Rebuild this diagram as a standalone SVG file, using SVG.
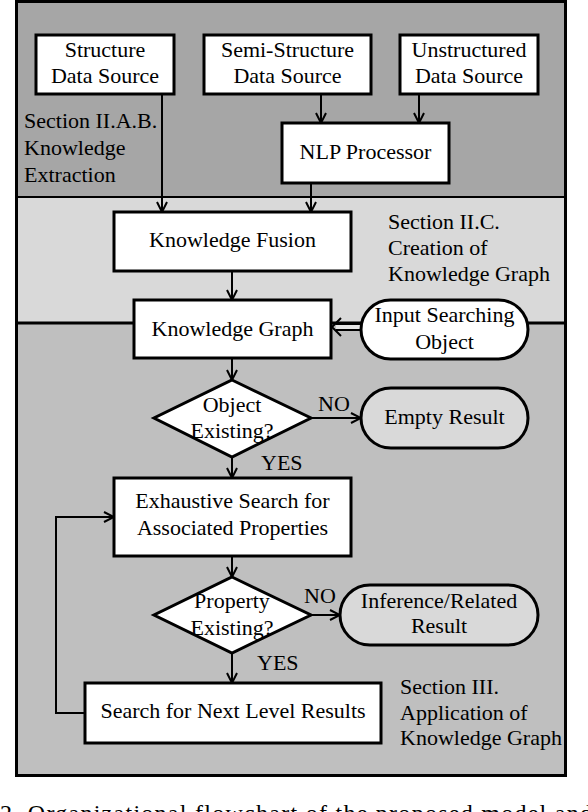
<svg xmlns="http://www.w3.org/2000/svg" width="588" height="812" viewBox="0 0 588 812">
<style>
.c{text-anchor:middle}
.box{fill:#fff;stroke:#000;stroke-width:3}
.res{fill:#d9d9d9;stroke:#000;stroke-width:3}
.ln{fill:none;stroke:#000;stroke-width:2}
</style>
<defs>
<marker id="ah" viewBox="0 0 12 12" refX="11" refY="6" markerWidth="12" markerHeight="12" markerUnits="userSpaceOnUse" orient="auto">
<path d="M1,1 L11,6 L1,11" fill="none" stroke="#000" stroke-width="2"/>
</marker>
</defs>
<g id="background">
<rect x="16.5" y="1.5" width="549" height="196" fill="#a6a6a6"/>
<rect x="16.5" y="197" width="549" height="126" fill="#d9d9d9"/>
<rect x="16.5" y="323" width="549" height="453" fill="#bfbfbf"/>
<line x1="16" y1="197" x2="566" y2="197" stroke="#000" stroke-width="2"/>
<line x1="16" y1="323" x2="566" y2="323" stroke="#000" stroke-width="3"/>
<rect x="16.5" y="1.5" width="549" height="774" fill="none" stroke="#000" stroke-width="3"/>
</g>
<g id="section-labels">
<text x="24" y="128" font-size="22" font-family="Liberation Serif">Section II.A.B.</text>
<text x="24" y="155" font-size="22" font-family="Liberation Serif">Knowledge</text>
<text x="24" y="182" font-size="22" font-family="Liberation Serif">Extraction</text>
<text x="388" y="229" font-size="22" font-family="Liberation Serif">Section II.C.</text>
<text x="388" y="255" font-size="22" font-family="Liberation Serif">Creation of</text>
<text x="388" y="281" font-size="22" font-family="Liberation Serif">Knowledge Graph</text>
<text x="400" y="694" font-size="22" font-family="Liberation Serif">Section III.</text>
<text x="400" y="720" font-size="22" font-family="Liberation Serif">Application of</text>
<text x="400" y="745" font-size="22" font-family="Liberation Serif">Knowledge Graph</text>
</g>
<g id="connectors">
<line class="ln" x1="162" y1="94" x2="162" y2="212" marker-end="url(#ah)"/>
<line class="ln" x1="321" y1="94" x2="321" y2="123" marker-end="url(#ah)"/>
<line class="ln" x1="419" y1="94" x2="419" y2="123" marker-end="url(#ah)"/>
<line class="ln" x1="311" y1="183" x2="311" y2="212" marker-end="url(#ah)"/>
<line class="ln" x1="232" y1="271" x2="232" y2="300" marker-end="url(#ah)"/>
<line class="ln" x1="232" y1="358" x2="232" y2="380" marker-end="url(#ah)"/>
<line class="ln" x1="232" y1="457" x2="232" y2="478" marker-end="url(#ah)"/>
<line class="ln" x1="232" y1="556" x2="232" y2="577" marker-end="url(#ah)"/>
<line class="ln" x1="232" y1="653" x2="232" y2="683" marker-end="url(#ah)"/>
<line class="ln" x1="311" y1="418" x2="361" y2="418" marker-end="url(#ah)"/>
<line class="ln" x1="311" y1="615" x2="340" y2="615" marker-end="url(#ah)"/>
<polyline class="ln" points="85,713 56,713 56,517 114,517" marker-end="url(#ah)"/>
<rect x="336" y="324" width="25" height="6" fill="#e6e6e6"/>
<line class="ln" x1="336" y1="324" x2="361" y2="324"/>
<line class="ln" x1="336" y1="330" x2="361" y2="330"/>
<polyline class="ln" points="341,318 332,327 341,336"/>
<text x="318" y="411" font-size="22" font-family="Liberation Serif">NO</text>
<text x="261" y="470" font-size="22" font-family="Liberation Serif">YES</text>
<text x="304" y="603" font-size="22" font-family="Liberation Serif">NO</text>
<text x="257" y="670" font-size="22" font-family="Liberation Serif">YES</text>
</g>
<g id="structure-source">
<rect class="box" x="36" y="35" width="138" height="59"/>
<text class="c" x="105" y="57" font-size="22" font-family="Liberation Serif">Structure</text>
<text class="c" x="105" y="83" font-size="22" font-family="Liberation Serif">Data Source</text>
</g>
<g id="semi-structure-source">
<rect class="box" x="204" y="35" width="167" height="59"/>
<text class="c" x="287.5" y="57" font-size="22" font-family="Liberation Serif">Semi-Structure</text>
<text class="c" x="287.5" y="83" font-size="22" font-family="Liberation Serif">Data Source</text>
</g>
<g id="unstructured-source">
<rect class="box" x="400" y="35" width="138" height="59"/>
<text class="c" x="469" y="57" font-size="22" font-family="Liberation Serif">Unstructured</text>
<text class="c" x="469" y="83" font-size="22" font-family="Liberation Serif">Data Source</text>
</g>
<g id="nlp-processor">
<rect class="box" x="282" y="123" width="167" height="60"/>
<text class="c" x="365.5" y="159" font-size="22" font-family="Liberation Serif">NLP Processor</text>
</g>
<g id="knowledge-fusion">
<rect class="box" x="114" y="212" width="237" height="59"/>
<text class="c" x="232.5" y="247" font-size="22" font-family="Liberation Serif">Knowledge Fusion</text>
</g>
<g id="knowledge-graph">
<rect class="box" x="134" y="300" width="197" height="58"/>
<text class="c" x="232.5" y="336" font-size="22" font-family="Liberation Serif">Knowledge Graph</text>
</g>
<g id="input-searching-object">
<rect class="box" x="361" y="300" width="167" height="59" rx="29.5"/>
<text class="c" x="444.5" y="322" font-size="22" font-family="Liberation Serif">Input Searching</text>
<text class="c" x="444.5" y="349" font-size="22" font-family="Liberation Serif">Object</text>
</g>
<g id="object-existing">
<polygon class="box" points="232,380 311,418 232,457 154,418"/>
<text class="c" x="232" y="412" font-size="22" font-family="Liberation Serif">Object</text>
<text class="c" x="232" y="438" font-size="22" font-family="Liberation Serif">Existing?</text>
</g>
<g id="empty-result">
<rect class="res" x="361" y="388" width="167" height="60" rx="30"/>
<text class="c" x="444.5" y="424" font-size="22" font-family="Liberation Serif">Empty Result</text>
</g>
<g id="exhaustive-search">
<rect class="box" x="114" y="478" width="237" height="78"/>
<text class="c" x="232.5" y="508" font-size="22" font-family="Liberation Serif">Exhaustive Search for</text>
<text class="c" x="232.5" y="535" font-size="22" font-family="Liberation Serif">Associated Properties</text>
</g>
<g id="property-existing">
<polygon class="box" points="232,577 311,615 232,653 154,615"/>
<text class="c" x="232" y="608" font-size="22" font-family="Liberation Serif">Property</text>
<text class="c" x="232" y="635" font-size="22" font-family="Liberation Serif">Existing?</text>
</g>
<g id="inference-result">
<rect class="res" x="340" y="585" width="198" height="60" rx="30"/>
<text class="c" x="439" y="608" font-size="22" font-family="Liberation Serif">Inference/Related</text>
<text class="c" x="439" y="633" font-size="22" font-family="Liberation Serif">Result</text>
</g>
<g id="search-next-level">
<rect class="box" x="85" y="683" width="296" height="60"/>
<text class="c" x="233" y="718" font-size="22" font-family="Liberation Serif">Search for Next Level Results</text>
</g>
<g id="caption">
<text x="0" y="821" font-size="24" font-family="Liberation Serif" textLength="592" lengthAdjust="spacing">2. Organizational flowchart of the proposed model and</text>
</g>
</svg>
